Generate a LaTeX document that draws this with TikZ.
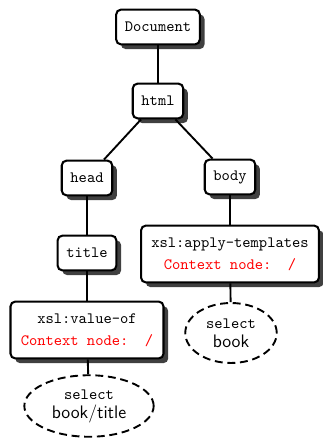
\documentclass[tikz,border=0pt]{standalone}
\usetikzlibrary{shapes.geometric,shadows}
\newcommand{\selectpath}[1]{{\sffamily\fontsize{11.5}{13}\selectfont #1}}
\begin{document}
\begin{tikzpicture}[x=0.634pt,y=-0.634pt,
    treenode/.style={draw, line width=1.3pt, rounded corners=3pt, fill=white,
      font=\ttfamily, inner xsep=5.5pt, minimum height=22pt,
      drop shadow={shadow xshift=3pt, shadow yshift=-3pt, fill=black!75, opacity=1}},
    xslnode/.style={treenode, align=center, inner xsep=6.5pt, minimum height=36pt},
    selectnode/.style={ellipse, draw, line width=1.2pt, dash pattern=on 5pt off 3pt,
      fill=white, font=\ttfamily, align=center, inner sep=0pt},
    link/.style={line width=1.2pt}]
        \useasboundingbox (0,0) rectangle (322,440);
        % the source tree
        \node[treenode] (document) at (158, 27)  {Document};
        \node[treenode] (html)     at (158,101)  {html};
        \node[treenode] (head)     at ( 87,178)  {head};
        \node[treenode] (body)     at (230,177)  {body};
        \node[treenode] (title)    at ( 87,253)  {title};
        % the xsl instructions
        \node[xslnode]  (applytemplates) at (230,254)
          {xsl:apply-templates\\[2pt]\textcolor{red}{Context node:\ \ /}};
        \node[xslnode]  (valueof)        at ( 87,330)
          {xsl:value-of\\[2pt]\textcolor{red}{Context node:\ \ /}};
        % the select attributes
        \node[selectnode, minimum width=58pt, minimum height=38pt] (selectbook)  at (231,333)
          {select\\\selectpath{book}};
        \node[selectnode, minimum width=82pt, minimum height=39pt] (selecttitle) at ( 89,406)
          {select\\\selectpath{book/title}};
        % drawing the links
        \draw[link] (document) -- (html);
        \draw[link] (html)     -- (head);
        \draw[link] (html)     -- (body);
        \draw[link] (head)     -- (title);
        \draw[link] (title)    -- (valueof);
        \draw[link] (body)     -- (applytemplates);
        \draw[link] (valueof)        -- (selecttitle);
        \draw[link] (applytemplates) -- (selectbook);
\end{tikzpicture}
\end{document}
